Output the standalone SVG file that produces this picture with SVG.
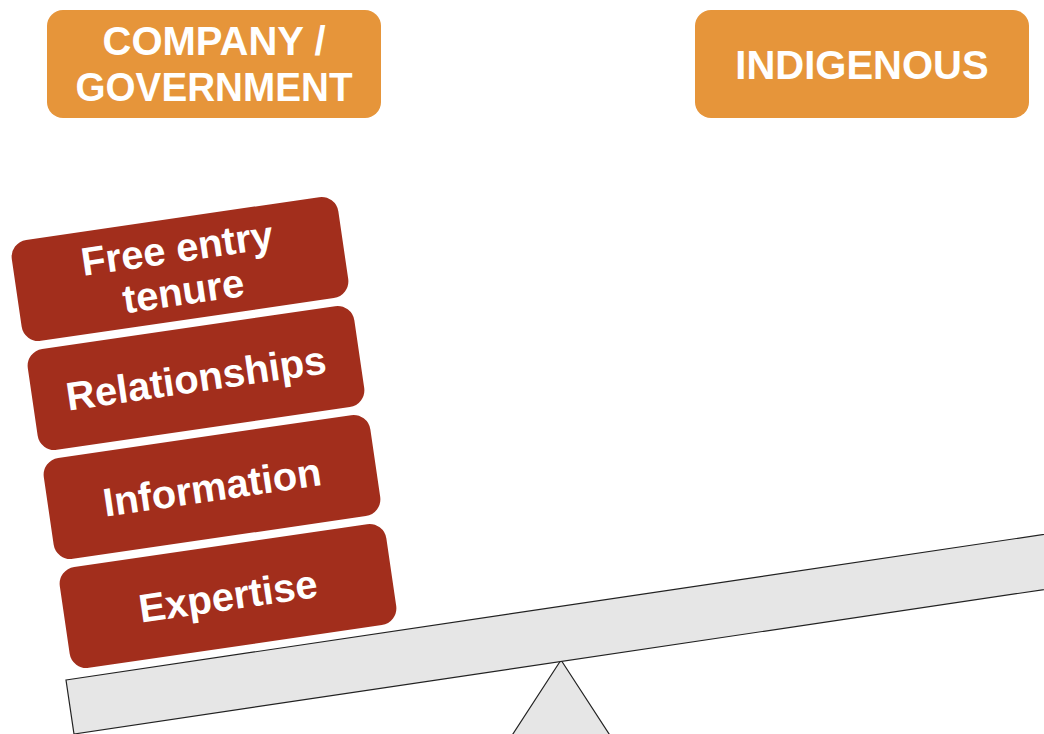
<svg xmlns="http://www.w3.org/2000/svg" width="1044" height="734" viewBox="0 0 1044 734">
<style>
.hdr{fill:#E6953A}
.hdrt{fill:#fff;font-family:"Liberation Sans",Arial,sans-serif;font-weight:bold;font-size:40px;text-anchor:middle}
.blk{fill:#A22E1C;stroke:#fff;stroke-width:2}
.blkt{fill:#fff;font-family:"Liberation Sans",Arial,sans-serif;font-weight:bold;font-size:40px;text-anchor:middle}
.gray{fill:#e6e6e6;stroke:#222;stroke-width:1.2}
</style>
<rect width="1044" height="734" fill="#fff"/>
<g id="company-government">
<rect class="hdr" x="47" y="10" width="334" height="108" rx="16"/>
<text class="hdrt" x="214" y="55">COMPANY /</text>
<text class="hdrt" x="214" y="101" textLength="277" lengthAdjust="spacingAndGlyphs">GOVERNMENT</text>
</g>
<g id="indigenous">
<rect class="hdr" x="695" y="10" width="334" height="108" rx="16"/>
<text class="hdrt" x="862" y="79">INDIGENOUS</text>
</g>
<g id="fulcrum">
<polygon class="gray" points="561,660 509,740 613,740"/>
</g>
<g id="beam">
<polygon class="gray" points="66,680 1154,518 1162,572 74,734"/>
</g>
<g id="free-entry-tenure" transform="translate(180 269) rotate(-8.3)">
<rect class="blk" x="-166" y="-52" width="332" height="104" rx="18"/>
<text class="blkt" x="0" y="-7">Free entry</text>
<text class="blkt" x="0" y="36">tenure</text>
</g>
<g id="relationships" transform="translate(196 378) rotate(-8.3)">
<rect class="blk" x="-166" y="-52" width="332" height="104" rx="18"/>
<text class="blkt" x="0" y="14">Relationships</text>
</g>
<g id="information" transform="translate(212 487) rotate(-8.3)">
<rect class="blk" x="-166" y="-52" width="332" height="104" rx="18"/>
<text class="blkt" x="0" y="14">Information</text>
</g>
<g id="expertise" transform="translate(228 596) rotate(-8.3)">
<rect class="blk" x="-166" y="-52" width="332" height="104" rx="18"/>
<text class="blkt" x="0" y="14">Expertise</text>
</g>
<g id="connectors"/>
</svg>
